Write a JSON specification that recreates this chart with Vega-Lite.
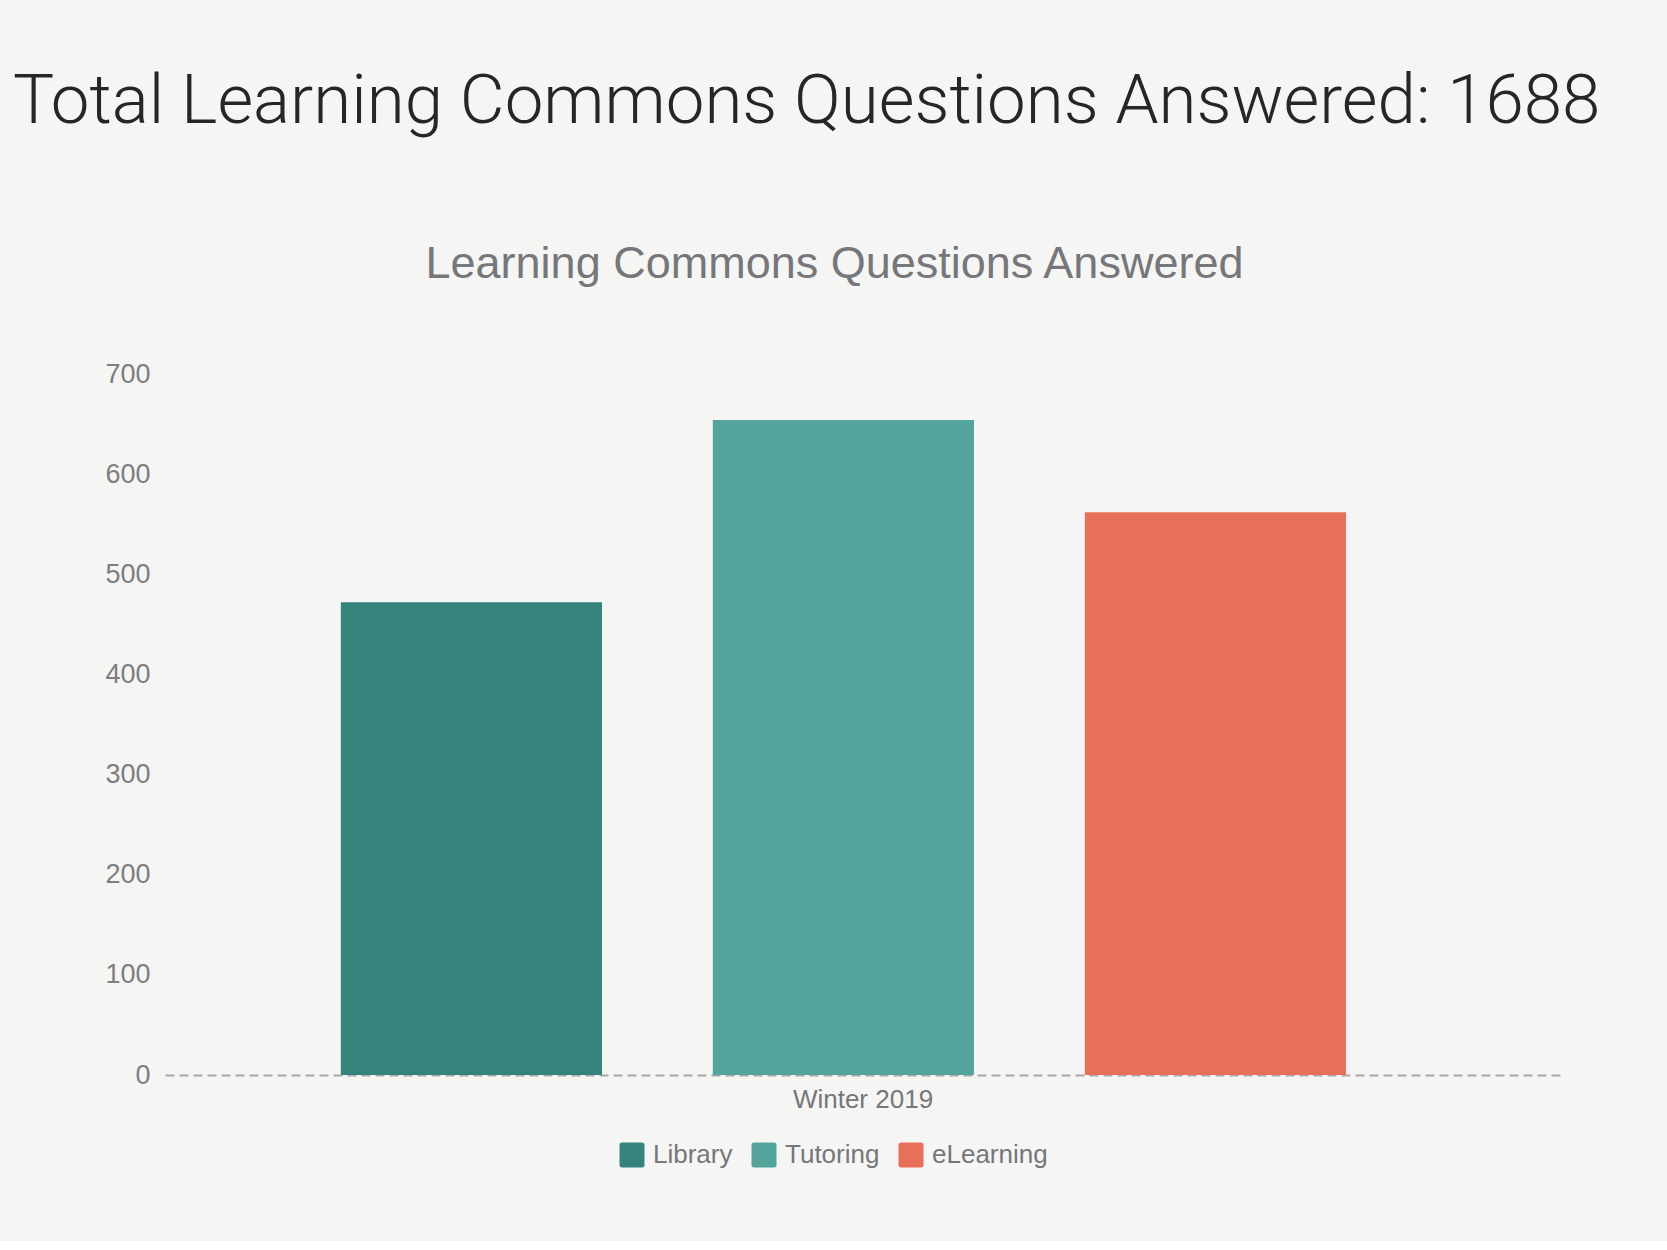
{
  "$schema": "https://vega.github.io/schema/vega-lite/v6.json",
  "background": "#f5f5f4",
  "padding": {"left": 13, "top": 68, "right": 70, "bottom": 73},
  "title": {
    "text": "Total Learning Commons Questions Answered: 1688",
    "anchor": "start",
    "frame": "group",
    "dx": -152,
    "offset": 105,
    "font": "Roboto",
    "fontWeight": 300,
    "fontSize": 69,
    "color": "#262626"
  },
  "data": {
    "values": [
      {"term": "Winter 2019", "service": "Library", "questions": 472},
      {"term": "Winter 2019", "service": "Tutoring", "questions": 654},
      {"term": "Winter 2019", "service": "eLearning", "questions": 562}
    ]
  },
  "vconcat": [
    {
      "width": 1395,
      "height": 701,
      "title": {
        "text": "Learning Commons Questions Answered",
        "anchor": "middle",
        "dx": -28,
        "offset": 73,
        "font": "Liberation Sans",
        "fontWeight": "normal",
        "fontSize": 45,
        "color": "#76777a"
      },
      "mark": {"type": "bar"},
      "encoding": {
        "x": {
          "field": "service",
          "type": "nominal",
          "sort": ["Library", "Tutoring", "eLearning"],
          "scale": {"paddingInner": 0.298, "paddingOuter": 0.524, "align": 0.451},
          "axis": {
            "labels": false,
            "ticks": false,
            "domainDash": [9, 5],
            "domainColor": "#a9a9a9",
            "domainWidth": 2,
            "title": "Winter 2019",
            "titleFont": "Liberation Sans",
            "titleFontWeight": "normal",
            "titleFontSize": 26,
            "titleColor": "#76777a",
            "titlePadding": 11
          }
        },
        "y": {
          "field": "questions",
          "type": "quantitative",
          "scale": {"domain": [0, 700], "nice": false},
          "axis": {
            "values": [0, 100, 200, 300, 400, 500, 600, 700],
            "grid": false,
            "domain": false,
            "ticks": false,
            "labelPadding": 15,
            "labelFont": "Liberation Sans",
            "labelFontSize": 27,
            "labelColor": "#7d7e81",
            "title": null
          }
        },
        "color": {
          "field": "service",
          "type": "nominal",
          "sort": ["Library", "Tutoring", "eLearning"],
          "scale": {
            "domain": ["Library", "Tutoring", "eLearning"],
            "range": ["#35847c", "#53a59c", "#e8705b"]
          },
          "legend": {
            "orient": "none",
            "legendX": 454,
            "legendY": 768,
            "direction": "horizontal",
            "title": null,
            "symbolType": "M-0.8,-1H0.8Q1,-1 1,-0.8V0.8Q1,1 0.8,1H-0.8Q-1,1 -1,0.8V-0.8Q-1,-1 -0.8,-1Z",
            "symbolSize": 625,
            "symbolStrokeWidth": 0,
            "symbolOpacity": 1,
            "labelFont": "Liberation Sans",
            "labelFontSize": 26,
            "labelColor": "#76777a",
            "labelOffset": 8,
            "columnPadding": 18
          }
        }
      }
    }
  ],
  "config": {
    "view": {"stroke": null}
  }
}
